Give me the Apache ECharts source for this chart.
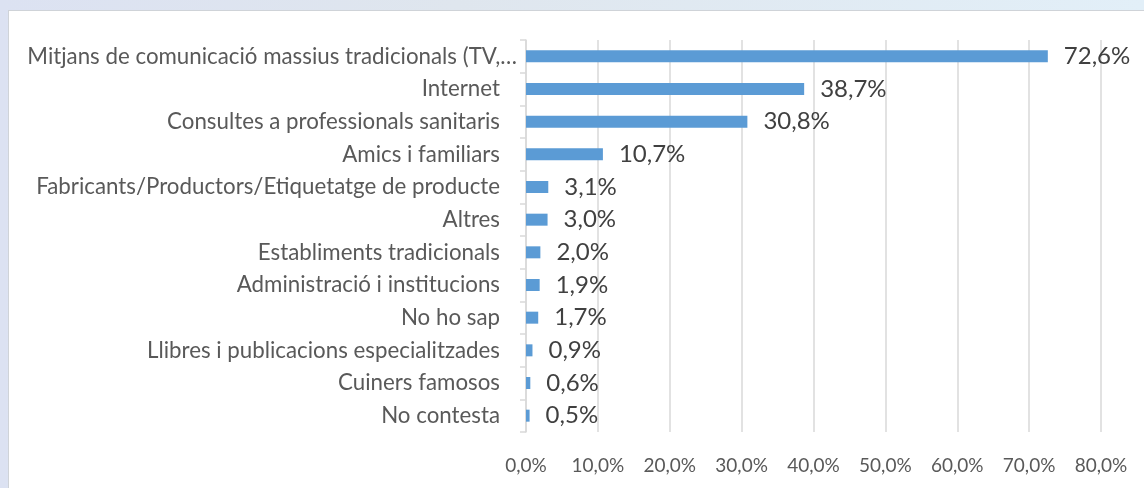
<!DOCTYPE html>
<html>
<head>
<meta charset="utf-8">
<script src="https://cdn.jsdelivr.net/npm/echarts@6/dist/echarts.min.js"></script>
<style>
  html, body { margin: 0; padding: 0; width: 1144px; height: 488px; overflow: hidden; }
  body { background: linear-gradient(90deg, #dce2f2 0%, #dfe6ee 40%, #e2eff8 100%); position: relative; }
  #panel { position: absolute; left: 8px; top: 10px; width: 1136px; height: 478px; background: #ffffff;
           border-left: 1px solid #cfd3d8; border-top: 1px solid #cfd3d8; box-sizing: border-box; }
  #chart { position: absolute; left: 0; top: 0; width: 1144px; height: 488px; }
</style>
</head>
<body>
<div id="panel"></div>
<div id="chart"></div>
<script>
const categories = [
  "Mitjans de comunicació massius tradicionals (TV,…",
  "Internet",
  "Consultes a professionals sanitaris",
  "Amics i familiars",
  "Fabricants/Productors/Etiquetatge de producte",
  "Altres",
  "Establiments tradicionals",
  "Administració i institucions",
  "No ho sap",
  "Llibres i publicacions especialitzades",
  "Cuiners famosos",
  "No contesta"
];
const values = [72.6, 38.7, 30.8, 10.7, 3.1, 3.0, 2.0, 1.9, 1.7, 0.9, 0.6, 0.5];
const xTicks = { min: 0, max: 80, interval: 10 };

const fmt = v => v.toFixed(1).replace('.', ',') + '%';
const FONT = "Lato, 'Open Sans', sans-serif";

const chart = echarts.init(document.getElementById('chart'), null, { renderer: 'canvas' });
chart.setOption({
  backgroundColor: 'transparent',
  animation: false,
  grid: { left: 526, right: 43, top: 40, bottom: 56, containLabel: false },
  xAxis: {
    type: 'value',
    min: xTicks.min, max: xTicks.max, interval: xTicks.interval,
    axisLine: { show: false },
    axisTick: { show: false },
    splitLine: { show: true, lineStyle: { color: '#d9d9d9', width: 1.5 } },
    axisLabel: { formatter: fmt, color: '#595959', fontSize: 19, fontFamily: FONT, margin: 24 }
  },
  yAxis: {
    type: 'category',
    data: categories,
    inverse: true,
    axisLine: { show: true, lineStyle: { color: '#d9d9d9', width: 1.5 } },
    axisTick: { show: true, length: 6, lineStyle: { color: '#d9d9d9', width: 1.5 } },
    axisLabel: {
      color: '#595959', fontSize: 22.3, fontFamily: FONT, margin: 26,
      formatter: (v, i) => i === 0 ? '{t|' + v + '}' : v,
      rich: { t: { color: '#595959', fontSize: 22.3, fontFamily: FONT, padding: [0, -17, 0, 0] } }
    }
  },
  series: [{
    type: 'bar',
    data: values,
    barWidth: 12,
    itemStyle: { color: '#5b9bd5' },
    label: {
      show: true, position: 'right', distance: 16,
      formatter: p => fmt(p.value),
      color: '#404040', fontSize: 24, fontFamily: FONT
    }
  }]
});
</script>
</body>
</html>
